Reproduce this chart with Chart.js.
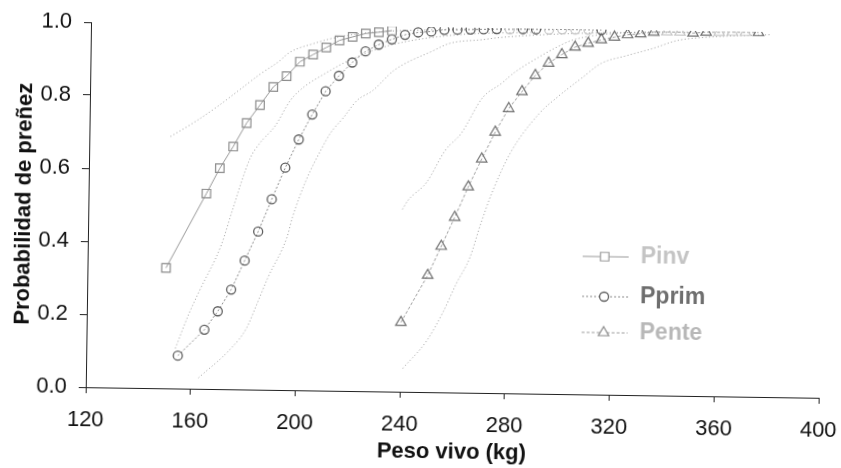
<!DOCTYPE html>
<html lang="es">
<head>
<meta charset="utf-8">
<title>Probabilidad de preñez según peso vivo</title>
<script src="https://cdn.jsdelivr.net/npm/chart.js@4.4.1/dist/chart.umd.min.js"></script>
<style>
  html, body { margin: 0; padding: 0; background: #fff; overflow: hidden; }
  /* the printed figure sits slightly skewed on the page */
  #wrap { width: 841px; height: 468px; transform: rotate(0.83deg); transform-origin: 50% 50%; }
  canvas { display: block; }
</style>
</head>
<body>
<div id="wrap"><canvas id="chart" width="841" height="468"></canvas></div>
<script>
// ── Series: peso vivo (kg) vs probabilidad de preñez ──────────
const seriesNames = ['Pinv', 'Pprim', 'Pente'];

const pinvPeso = [150, 165, 170, 175, 180, 185, 190, 195, 200, 205, 210, 215, 220, 225, 230, 235];
const pinvProb = [0.33, 0.535, 0.605, 0.665, 0.73, 0.78, 0.83, 0.86, 0.90, 0.92, 0.94, 0.96, 0.97, 0.98, 0.984, 0.989];

const pprimPeso = [155, 165, 170, 175, 180, 185, 190, 195, 200, 205, 210, 215, 220, 225, 230, 235,
                   240, 245, 250, 255, 260, 265, 270, 275, 280, 285, 290, 295, 300, 305, 310, 315];
const pprimProb = [0.09, 0.162, 0.213, 0.273, 0.353, 0.433, 0.522, 0.609, 0.687, 0.756, 0.82, 0.863, 0.90, 0.931, 0.95, 0.965,
                   0.978, 0.985, 0.988, 0.993, 0.994, 0.995, 0.996, 0.997, 0.997, 0.998, 0.998, 0.998, 0.999, 0.999, 0.999, 0.999];

const pentePeso = [240, 250, 255, 260, 265, 270, 275, 280, 285, 290, 295, 300, 305, 310, 315, 320,
                   325, 330, 335, 340, 345, 350, 355, 360, 365, 370, 375];
const penteProb = [0.19, 0.32, 0.40, 0.48, 0.564, 0.641, 0.715, 0.78, 0.827, 0.872, 0.906, 0.93, 0.951, 0.962, 0.972, 0.98,
                   0.987, 0.99, 0.995, 0.996, 0.996, 0.994, 0.997, 0.997, 0.998, 0.998, 0.998];

// ── Confidence limits (upper / lower) ─────────────────────────
const pinvSupPeso = [151, 160, 168, 177, 185, 192, 196, 205, 215, 230, 260];
const pinvSupProb = [0.69, 0.73, 0.77, 0.82, 0.865, 0.90, 0.925, 0.95, 0.97, 0.985, 0.995];

const pinvInfPeso = [154, 159, 163, 171, 175, 181.5, 185, 191, 196.5, 201, 210, 220, 235, 260, 290];
const pinvInfProb = [0.11, 0.205, 0.27, 0.395, 0.49, 0.633, 0.674, 0.724, 0.793, 0.827, 0.87, 0.91, 0.95, 0.98, 0.99];

const pprimInfPeso = [163, 175, 181, 185, 189, 196, 198, 203, 209, 212, 217, 222, 228, 236, 251, 257, 270, 276, 310, 340];
const pprimInfProb = [0.03, 0.11, 0.167, 0.236, 0.308, 0.418, 0.473, 0.575, 0.666, 0.705, 0.749, 0.796, 0.824, 0.88, 0.936, 0.956, 0.968, 0.974, 0.99, 0.995];

const penteSupPeso = [240, 242, 249, 256, 262, 270, 277, 282, 291, 298, 304, 320, 350];
const penteSupProb = [0.50, 0.524, 0.574, 0.663, 0.71, 0.809, 0.848, 0.879, 0.921, 0.95, 0.97, 0.99, 0.997];

const penteInfPeso = [241, 250, 256, 261, 266, 270, 274, 281, 292, 298, 308, 315, 325, 335, 344, 355, 380];
const penteInfProb = [0.064, 0.141, 0.219, 0.299, 0.37, 0.464, 0.547, 0.66, 0.77, 0.81, 0.868, 0.907, 0.93, 0.951, 0.973, 0.983, 0.993];

// ── Axis ticks ────────────────────────────────────────────────
const xTicks = [120, 160, 200, 240, 280, 320, 360, 400];
const yTicks = [0, 0.2, 0.4, 0.6, 0.8, 1.0];

// markers that came out faint in print
const faintPprim = [280, 295, 300, 305, 310];
const faintPente = [340, 345, 360, 365, 370];

const FONT = "'Liberation Sans', Arial, sans-serif";
const pts = (xs, ys) => xs.map((x, i) => ({ x, y: ys[i] }));

function faintColor(list, normal, light) {
  return ctx => {
    const p = ctx.raw;
    return p && list.includes(p.x) ? light : normal;
  };
}

function band(xs, ys) {
  return {
    data: pts(xs, ys),
    showLine: true,
    borderColor: '#9c9c9c',
    borderWidth: 1,
    borderDash: [1, 2.5],
    pointRadius: 0,
    cubicInterpolationMode: 'monotone',
    order: 5
  };
}

// legend drawn inside the plot, lower right
const legendY = [254, 294, 330];
const legendText = ['#c4c4c4', '#6e6e6e', '#b8b8b8'];
const legendMarker = ['#9a9a9a', '#5e5e5e', '#8a8a8a'];
const inlineLegend = {
  id: 'inlineLegend',
  afterDatasetsDraw(chart) {
    const ctx = chart.ctx;
    seriesNames.forEach((name, i) => {
      const ds = chart.data.datasets[i];
      const y = legendY[i];
      ctx.save();
      ctx.strokeStyle = ds.borderColor;
      ctx.lineWidth = 1;
      ctx.setLineDash(ds.borderDash || []);
      ctx.beginPath();
      ctx.moveTo(583, y);
      ctx.lineTo(629, y);
      ctx.stroke();
      ctx.setLineDash([]);
      ctx.fillStyle = '#fff';
      ctx.strokeStyle = legendMarker[i];
      ctx.lineWidth = ds.pointBorderWidth;
      Chart.helpers.drawPoint(ctx, {
        pointStyle: ds.pointStyle,
        radius: ds.pointRadius,
        borderWidth: ds.pointBorderWidth,
        rotation: 0
      }, 605, y);
      ctx.restore();

      ctx.save();
      ctx.fillStyle = legendText[i];
      ctx.font = 'bold 23px ' + FONT;
      ctx.textBaseline = 'middle';
      ctx.fillText(name, 641, y);
      ctx.restore();
    });
  }
};

const whiteBg = {
  id: 'whiteBg',
  beforeDraw(chart) {
    const ctx = chart.ctx;
    ctx.save();
    ctx.fillStyle = '#fff';
    ctx.fillRect(0, 0, chart.width, chart.height);
    ctx.restore();
  }
};

new Chart(document.getElementById('chart'), {
  type: 'scatter',
  data: {
    datasets: [
      {
        label: seriesNames[0],
        data: pts(pinvPeso, pinvProb),
        showLine: true,
        borderColor: '#9a9a9a',
        borderWidth: 1,
        pointStyle: 'rect',
        pointRadius: 6,
        pointBorderWidth: 1.2,
        pointBorderColor: '#8c8c8c',
        pointBackgroundColor: 'rgba(255,255,255,0)',
        order: 1
      },
      {
        label: seriesNames[1],
        data: pts(pprimPeso, pprimProb),
        showLine: true,
        borderColor: '#8a8a8a',
        borderWidth: 1,
        borderDash: [2, 2],
        pointStyle: 'circle',
        pointRadius: 4.5,
        pointBorderWidth: 1.3,
        pointBorderColor: faintColor(faintPprim, '#5e5e5e', '#c8c8c8'),
        pointBackgroundColor: 'rgba(255,255,255,0)',
        order: 2
      },
      {
        label: seriesNames[2],
        data: pts(pentePeso, penteProb),
        showLine: true,
        borderColor: '#a0a0a0',
        borderWidth: 1,
        borderDash: [3, 2],
        pointStyle: 'triangle',
        pointRadius: 6,
        pointBorderWidth: 1.2,
        pointBorderColor: faintColor(faintPente, '#707070', '#c8c8c8'),
        pointBackgroundColor: 'rgba(255,255,255,0)',
        order: 3
      },
      band(pinvSupPeso, pinvSupProb),
      band(pinvInfPeso, pinvInfProb),
      band(pprimInfPeso, pprimInfProb),
      band(penteSupPeso, penteSupProb),
      band(penteInfPeso, penteInfProb)
    ]
  },
  options: {
    responsive: false,
    animation: false,
    events: [],
    layout: { padding: { left: 0, right: 20, top: 27, bottom: 0 } },
    plugins: {
      legend: { display: false },
      tooltip: { enabled: false }
    },
    scales: {
      x: {
        type: 'linear',
        min: 120,
        max: 400,
        afterFit: s => {
          s.height = 76;
          // edge labels may overhang; the layout padding already leaves room
          s.paddingLeft = 0;
          s.paddingRight = 0;
        },
        afterBuildTicks: s => { s.ticks = xTicks.map(v => ({ value: v })); },
        grid: { drawOnChartArea: false, drawTicks: true, tickLength: 6, color: '#222' },
        border: { display: true, color: '#222', width: 1 },
        ticks: { color: '#111', padding: 14, font: { family: FONT, size: 22 } },
        title: {
          display: true,
          text: 'Peso vivo (kg)',
          color: '#111',
          font: { family: FONT, size: 22, weight: 'bold' },
          padding: { top: 0, bottom: 3 }
        }
      },
      y: {
        type: 'linear',
        min: 0,
        max: 1,
        afterFit: s => { s.width = 88; },
        afterBuildTicks: s => { s.ticks = yTicks.map(v => ({ value: v })); },
        grid: { drawOnChartArea: false, drawTicks: true, tickLength: 7, color: '#222' },
        border: { display: true, color: '#222', width: 1 },
        ticks: {
          color: '#111',
          padding: 12,
          font: { family: FONT, size: 22 },
          callback: v => v.toFixed(1)
        },
        title: {
          display: true,
          text: 'Probabilidad de preñez',
          color: '#111',
          font: { family: FONT, size: 22, weight: 'bold' },
          padding: { top: 11, bottom: 0 }
        }
      }
    }
  },
  plugins: [whiteBg, inlineLegend]
});
</script>
</body>
</html>
